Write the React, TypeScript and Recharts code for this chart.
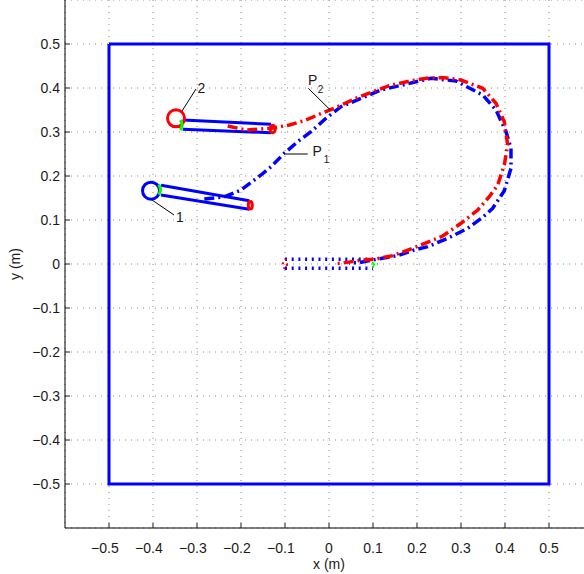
import React from 'react';
import { ComposedChart, Line, XAxis, YAxis, CartesianGrid, ReferenceDot } from 'recharts';

// axes
const TICKS = [-0.5, -0.4, -0.3, -0.2, -0.1, 0, 0.1, 0.2, 0.3, 0.4, 0.5];
const LIMITS: [number, number] = [-0.6, 0.6];

// workspace boundary (m)
const boundary = [[-0.5, 0.5], [0.5, 0.5], [0.5, -0.5], [-0.5, -0.5], [-0.5, 0.5]];

// arm 1 (blue base) and arm 2 (red base), outline edges
const arm1Upper = [[-0.3818, 0.1789], [-0.1811, 0.1439]];
const arm1Lower = [[-0.3818, 0.1568], [-0.1811, 0.1243]];
const arm2Upper = [[-0.3325, 0.3273], [-0.1318, 0.3175]];
const arm2Lower = [[-0.3325, 0.3061], [-0.1318, 0.2984]];

// initial (dotted) arm position
const armStartUpper = [[-0.1, 0.0107], [0.1, 0.0107]];
const armStartLower = [[-0.1, -0.0098], [0.1, -0.0098]];

// joints
const base1 = [-0.4045, 0.1666];
const base2 = [-0.3477, 0.3311];
const tip1 = [-0.1789, 0.1334];
const tip2 = [-0.128, 0.3068];
const tipStart = [-0.1, 0.0];
const greenStart = [0.1, -0.004];
const green1 = [-0.3836, 0.1691];
const green2 = [-0.3345, 0.3155];

// trajectory of P1 (blue)
const pathP1 = [
  [-0.2834, 0.1477], [-0.2386, 0.1523], [-0.2, 0.1682], [-0.1545, 0.2023], [-0.1318, 0.2211],
  [-0.1016, 0.2516], [-0.0711, 0.278], [-0.0409, 0.3007], [-0.0068, 0.3311], [0.0273, 0.3575],
  [0.1182, 0.3955], [0.2318, 0.422], [0.2886, 0.4159], [0.3493, 0.3841], [0.3795, 0.35],
  [0.4023, 0.3007], [0.4136, 0.263], [0.4136, 0.2175], [0.3984, 0.1666], [0.372, 0.1266],
  [0.3493, 0.1061], [0.3152, 0.0811], [0.2698, 0.0584], [0.2243, 0.0393], [0.1939, 0.0318],
  [0.1561, 0.0189], [0.1107, 0.0114], [0.0682, 0.003], [0.0455, 0.0023],
];

// trajectory of P2 (red)
const pathP2 = [
  [-0.2302, 0.3136], [-0.1886, 0.3045], [-0.1318, 0.3084], [-0.0902, 0.3159], [-0.0561, 0.3257],
  [-0.0257, 0.3386], [0.0198, 0.3575], [0.0689, 0.3802], [0.137, 0.4052], [0.1864, 0.4166],
  [0.2318, 0.4234], [0.262, 0.4234], [0.3, 0.4182], [0.3493, 0.3993], [0.3795, 0.3652],
  [0.3984, 0.3234], [0.4061, 0.2705], [0.3984, 0.225], [0.3834, 0.1795], [0.3643, 0.153],
  [0.338, 0.1227], [0.3, 0.0925], [0.2584, 0.0636], [0.2318, 0.0523], [0.1902, 0.0357],
  [0.1448, 0.0189], [0.103, 0.0107], [0.0766, 0.0091], [0.0273, 0.0016], [0.0159, 0.0011],
];

// annotations: leader lines and text anchors
const leader1 = [[-0.4023, 0.1455], [-0.3523, 0.1114]];
const leader2 = [[-0.3341, 0.3477], [-0.3023, 0.3977]];
const leaderP1 = [[-0.0977, 0.25], [-0.0484, 0.25]];
const leaderP2 = [[-0.047, 0.3993], [0.003, 0.35]];
const label1 = [-0.3477, 0.0955];
const label2 = [-0.2989, 0.388];
const labelP1 = [-0.0375, 0.2455];
const labelP2 = [-0.0477, 0.4068];

const BLUE = '#0000ff';
const RED = '#ff0000';
const GREEN = '#00ff00';
const TEXT = '#1a1a1a';
const FONT = '"Liberation Sans", Arial, Helvetica, sans-serif';

const W = 600;
const H = 574;
const Y_AXIS_W = 65;
const X_AXIS_H = 46;

const pts = (a: number[][]) => a.map(([x, y]) => ({ x, y }));

const tickText = (v: number) => (v < 0 ? '\u2212' : '') + (v === 0 ? '0' : Math.abs(v).toFixed(1));

function BottomTick({ x, y, payload }: any) {
  const v = payload.value;
  return (
    <g>
      <line x1={x} x2={x} y1={y} y2={y - 5} stroke={TEXT} />
      <text
        x={v < 0 ? x + 9.7 : x}
        y={y + 25}
        textAnchor={v < 0 ? 'end' : 'middle'}
        fontSize={14}
        fontFamily={FONT}
        fill={TEXT}
      >
        {tickText(v)}
      </text>
    </g>
  );
}

function TopTick({ x, y }: any) {
  return <line x1={x} x2={x} y1={y} y2={y + 5} stroke={TEXT} />;
}

function LeftTick({ x, y, payload }: any) {
  return (
    <g>
      <line x1={x} x2={x + 5} y1={y} y2={y} stroke={TEXT} />
      <text x={x - 5} y={y + 5} textAnchor="end" fontSize={14} fontFamily={FONT} fill={TEXT}>
        {tickText(payload.value)}
      </text>
    </g>
  );
}

function XTitle({ viewBox }: any) {
  const vb = viewBox || { x: Y_AXIS_W, y: H - X_AXIS_H, width: 528, height: X_AXIS_H };
  return (
    <text x={vb.x + vb.width / 2} y={vb.y + 41} textAnchor="middle" fontSize={14} fontFamily={FONT} fill={TEXT}>
      x (m)
    </text>
  );
}

function YTitle({ viewBox }: any) {
  const vb = viewBox || { x: 0, y: 0, width: Y_AXIS_W, height: H - X_AXIS_H };
  const cx = vb.x + 20;
  const cy = vb.y + vb.height / 2;
  return (
    <text x={cx} y={cy} transform={`rotate(-90 ${cx} ${cy})`} textAnchor="middle" fontSize={14} fontFamily={FONT} fill={TEXT}>
      y (m)
    </text>
  );
}

// small green arc where an arm joins its base circle
const greenArc = (p: any) => (
  <path
    d={`M${p.cx - 1.5} ${p.cy - 5} Q${p.cx + 2} ${p.cy} ${p.cx - 1.5} ${p.cy + 5}`}
    fill="none"
    stroke={GREEN}
    strokeWidth={3}
  />
);

const lineProps = {
  type: 'linear' as const,
  dataKey: 'y',
  dot: false,
  activeDot: false,
  legendType: 'none' as const,
  isAnimationActive: false,
};

const PATH_DASH = '10 4 2 4';

export default function App() {
  return (
    <div style={{ position: 'absolute', left: 0, top: 0, width: 584, height: 574, overflow: 'hidden', background: '#fff' }}>
      <ComposedChart width={W} height={H} margin={{ top: 0, right: 7, bottom: 0, left: 0 }}>
        <CartesianGrid stroke="#8c8c8c" strokeDasharray="1 5" />
        <XAxis
          type="number"
          dataKey="x"
          domain={LIMITS}
          ticks={TICKS}
          allowDataOverflow
          height={X_AXIS_H}
          tickSize={0}
          tickMargin={0}
          tickLine={false}
          tick={(p: any) => <BottomTick {...p} />}
          axisLine={{ stroke: '#000' }}
          label={<XTitle />}
        />
        <XAxis
          xAxisId="top"
          orientation="top"
          type="number"
          dataKey="x"
          domain={LIMITS}
          ticks={TICKS}
          allowDataOverflow
          height={0}
          tickSize={0}
          tickMargin={0}
          tickLine={false}
          tick={(p: any) => <TopTick {...p} />}
          axisLine={{ stroke: '#000' }}
        />
        <YAxis
          type="number"
          domain={LIMITS}
          ticks={TICKS}
          allowDataOverflow
          width={Y_AXIS_W}
          tickSize={0}
          tickMargin={0}
          tickLine={false}
          tick={(p: any) => <LeftTick {...p} />}
          axisLine={{ stroke: '#000' }}
          label={<YTitle />}
        />

        <Line {...lineProps} data={pts(boundary)} stroke={BLUE} strokeWidth={3} strokeLinejoin="miter" />

        <Line {...lineProps} data={pts(armStartUpper)} stroke={BLUE} strokeWidth={3.5} strokeDasharray="2 4.7" />
        <Line {...lineProps} data={pts(armStartLower)} stroke={BLUE} strokeWidth={3.5} strokeDasharray="2 4.7" />

        <Line {...lineProps} data={pts(arm1Upper)} stroke={BLUE} strokeWidth={3} />
        <Line {...lineProps} data={pts(arm1Lower)} stroke={BLUE} strokeWidth={3} />
        <Line {...lineProps} data={pts(arm2Upper)} stroke={BLUE} strokeWidth={3} />
        <Line {...lineProps} data={pts(arm2Lower)} stroke={BLUE} strokeWidth={3} />

        <Line {...lineProps} data={pts(pathP1)} stroke={BLUE} strokeWidth={3.5} strokeDasharray={PATH_DASH} />
        <Line {...lineProps} data={pts(pathP2)} stroke={RED} strokeWidth={3.5} strokeDasharray={PATH_DASH} />

        <Line {...lineProps} data={pts(leader1)} stroke="#000" strokeWidth={1} />
        <Line {...lineProps} data={pts(leader2)} stroke="#000" strokeWidth={1} />
        <Line {...lineProps} data={pts(leaderP1)} stroke="#000" strokeWidth={1} />
        <Line {...lineProps} data={pts(leaderP2)} stroke="#000" strokeWidth={1} />

        <ReferenceDot x={base1[0]} y={base1[1]} r={8.5} fill="none" stroke={BLUE} strokeWidth={3} />
        <ReferenceDot x={base2[0]} y={base2[1]} r={8.5} fill="none" stroke={RED} strokeWidth={3} />
        <ReferenceDot x={green1[0]} y={green1[1]} shape={greenArc} />
        <ReferenceDot x={green2[0]} y={green2[1]} shape={greenArc} />
        <ReferenceDot
          x={tip1[0]}
          y={tip1[1]}
          shape={(p: any) => <ellipse cx={p.cx} cy={p.cy} rx={2} ry={3.8} fill="none" stroke={RED} strokeWidth={3} />}
        />
        <ReferenceDot
          x={tip2[0]}
          y={tip2[1]}
          shape={(p: any) => <ellipse cx={p.cx} cy={p.cy} rx={2.5} ry={3.8} fill="none" stroke={RED} strokeWidth={3} />}
        />
        <ReferenceDot
          x={tipStart[0]}
          y={tipStart[1]}
          shape={(p: any) => (
            <ellipse cx={p.cx} cy={p.cy} rx={2} ry={4.5} fill="none" stroke={RED} strokeWidth={2} strokeDasharray="2 3" />
          )}
        />
        <ReferenceDot
          x={greenStart[0]}
          y={greenStart[1]}
          shape={(p: any) => (
            <path
              d={`M${p.cx} ${p.cy - 4} L${p.cx} ${p.cy + 4} M${p.cx} ${p.cy - 1} L${p.cx + 5} ${p.cy - 2}`}
              fill="none"
              stroke={GREEN}
              strokeWidth={2}
              strokeDasharray="2 2"
            />
          )}
        />

        <ReferenceDot
          x={label1[0]}
          y={label1[1]}
          shape={(p: any) => (
            <text x={p.cx} y={p.cy} fontSize={14} fontFamily={FONT} fill={TEXT}>1</text>
          )}
        />
        <ReferenceDot
          x={label2[0]}
          y={label2[1]}
          shape={(p: any) => (
            <text x={p.cx} y={p.cy} fontSize={14} fontFamily={FONT} fill={TEXT}>2</text>
          )}
        />
        <ReferenceDot
          x={labelP1[0]}
          y={labelP1[1]}
          shape={(p: any) => (
            <text x={p.cx} y={p.cy} fontSize={14} fontFamily={FONT} fill={TEXT}>
              P<tspan dx={2} dy={7.5} fontSize={10}>1</tspan>
            </text>
          )}
        />
        <ReferenceDot
          x={labelP2[0]}
          y={labelP2[1]}
          shape={(p: any) => (
            <text x={p.cx} y={p.cy} fontSize={14} fontFamily={FONT} fill={TEXT}>
              P<tspan dx={0.5} dy={8} fontSize={10}>2</tspan>
            </text>
          )}
        />
      </ComposedChart>
    </div>
  );
}
